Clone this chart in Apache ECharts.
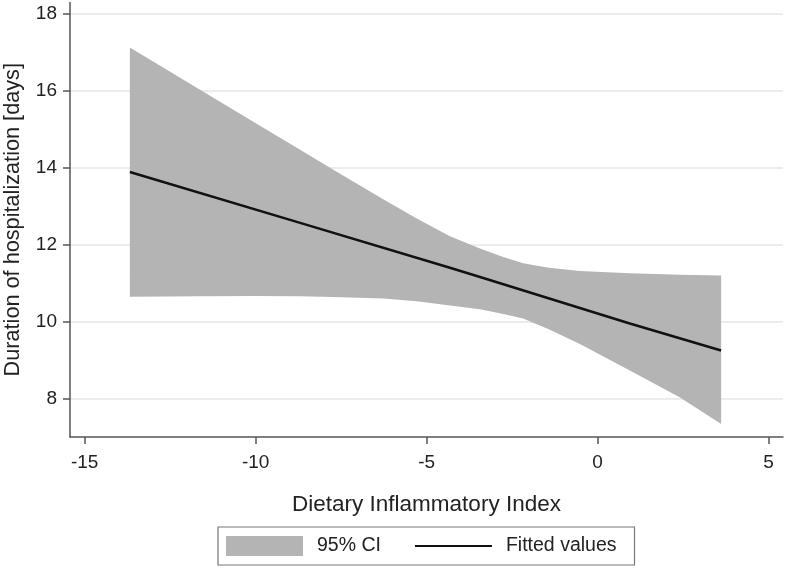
<!DOCTYPE html>
<html>
<head>
<meta charset="utf-8">
<script src="https://cdn.jsdelivr.net/npm/echarts@6/dist/echarts.min.js"></script>
<style>
html,body{margin:0;padding:0;background:#fff;}
#chart{width:785px;height:568px;}
</style>
</head>
<body>
<div id="chart"></div>
<script>
// ---- data ----
const bandX     = [-13.68, -11.53, -10.07, -8.70, -7.73, -6.27, -5.29, -4.32, -3.44, -2.76, -2.18, -1.43, -0.52, 0.94, 2.41, 3.61];
const ciUpper   = [17.13, 15.98, 15.20, 14.47, 13.95, 13.18, 12.68, 12.22, 11.90, 11.68, 11.52, 11.40, 11.32, 11.26, 11.22, 11.20];
const ciLower   = [10.65, 10.66, 10.67, 10.66, 10.64, 10.60, 10.53, 10.42, 10.32, 10.20, 10.08, 9.80, 9.42, 8.73, 8.03, 7.34];
const fitX      = [-13.68, -8.70, -4.32, -3.44, 0.94, 3.61];
const fitY      = [13.89, 12.57, 11.40, 11.16, 9.95, 9.25];
const xTicks    = [-15, -10, -5, 0, 5];
const yTicks    = [8, 10, 12, 14, 16, 18];
const xTitle    = 'Dietary Inflammatory Index';
const yTitle    = 'Duration of hospitalization [days]';
const legendCI  = '95% CI';
const legendFit = 'Fitted values';

const FONT = '"Liberation Sans", Arial, sans-serif';
const AXIS = '#555555';
const BAND = '#b4b4b4';

const bandData = bandX.map((x, i) => [x, ciUpper[i], ciLower[i]]);
const fitData  = fitX.map((x, i) => [x, fitY[i]]);

function renderBand(params, api) {
  if (params.dataIndex !== 0) return null;
  const pts = [];
  for (let i = 0; i < bandData.length; i++) pts.push(api.coord([bandData[i][0], bandData[i][1]]));
  for (let i = bandData.length - 1; i >= 0; i--) pts.push(api.coord([bandData[i][0], bandData[i][2]]));
  return {
    type: 'polygon',
    shape: {points: pts},
    style: {fill: BAND, stroke: null}
  };
}

const chart = echarts.init(document.getElementById('chart'), null, {renderer: 'canvas'});
chart.setOption({
  animation: false,
  backgroundColor: '#ffffff',
  textStyle: {fontFamily: FONT},
  grid: {left: 70, right: 2, top: 2.5, bottom: 131, containLabel: false, outerBoundsMode: 'none'},
  xAxis: {
    type: 'value', min: -15.43, max: 5.42,
    name: xTitle, nameLocation: 'middle', nameGap: 56,
    nameTextStyle: {fontSize: 22.5, color: '#222', fontFamily: FONT},
    axisLine: {show: true, onZero: false, lineStyle: {color: AXIS, width: 1.5}},
    axisTick: {show: true, length: 7, lineStyle: {color: AXIS, width: 1.5}, customValues: xTicks},
    axisLabel: {fontSize: 19, color: '#222', margin: 16, fontFamily: FONT, customValues: xTicks},
    splitLine: {show: false}
  },
  yAxis: {
    type: 'value', min: 7, max: 18.3,
    name: yTitle, nameLocation: 'middle', nameGap: 46, nameRotate: 90,
    nameTextStyle: {fontSize: 21.7, color: '#222', fontFamily: FONT},
    axisLine: {show: true, onZero: false, lineStyle: {color: AXIS, width: 1.5}},
    axisTick: {show: true, length: 7, lineStyle: {color: AXIS, width: 1.5}, customValues: yTicks},
    axisLabel: {fontSize: 19, color: '#222', margin: 13, fontFamily: FONT, customValues: yTicks},
    splitLine: {show: true, lineStyle: {color: '#e6e6e6', width: 1.5}}
  },
  legend: {
    left: 218, top: 527,
    padding: [9, 18, 9, 8],
    borderColor: '#777', borderWidth: 1.2,
    itemWidth: 77, itemHeight: 20, itemGap: 33,
    textStyle: {fontSize: 19.5, color: '#222', fontFamily: FONT, padding: [0, 0, 0, 9]},
    data: [
      {name: legendCI, icon: 'rect', itemStyle: {color: BAND}},
      {name: legendFit, itemStyle: {opacity: 0}}
    ]
  },
  series: [
    {
      name: legendCI, type: 'custom', data: bandData,
      encode: {x: 0, y: [1, 2]},
      renderItem: renderBand,
      itemStyle: {color: BAND},
      silent: true, z: 1, clip: true
    },
    {
      name: legendFit, type: 'line', data: fitData,
      showSymbol: false, symbol: 'none', color: '#111',
      lineStyle: {color: '#111', width: 2.5},
      z: 3
    }
  ]
});
</script>
</body>
</html>
